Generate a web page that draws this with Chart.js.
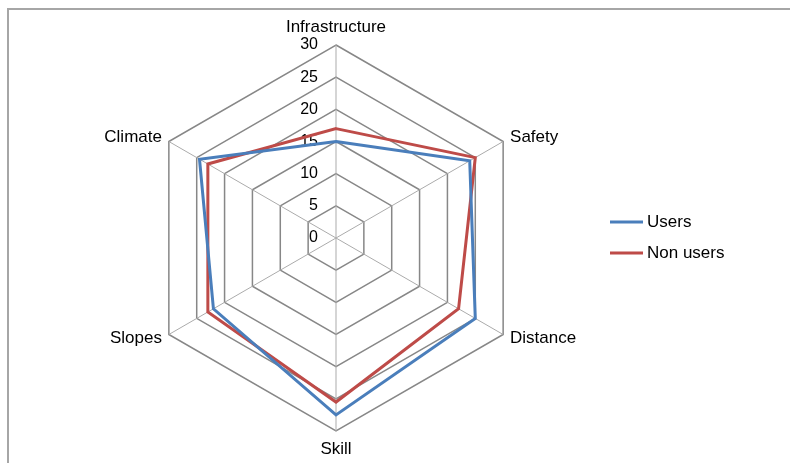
<!DOCTYPE html>
<html>
<head>
<meta charset="utf-8">
<script src="https://cdn.jsdelivr.net/npm/chart.js@4.4.0/dist/chart.umd.min.js"></script>
<style>
  html, body { margin: 0; padding: 0; background: #ffffff; }
  #wrap { position: relative; width: 790px; height: 463px; }
</style>
</head>
<body>
<div id="wrap"><canvas id="radar" width="790" height="463"></canvas></div>
<script>
// Survey scores per factor
const categories = ['Infrastructure', 'Safety', 'Distance', 'Skill', 'Slopes', 'Climate'];
const users = [15, 24, 25, 27.5, 22, 24.5];
const nonUsers = [17, 25, 22, 25.5, 23, 23];
const seriesNames = ['Users', 'Non users'];
const tickLabels = ['0', '5', '10', '15', '20', '25', '30'];

const FONT = "'Liberation Sans', Arial, sans-serif";
const COLORS = ['#4A7EBB', '#BE4B48'];

// Frame, axis numbers, category names and the legend
const decor = {
  id: 'decor',
  beforeDraw(chart) {
    const ctx = chart.ctx;
    ctx.save();
    ctx.strokeStyle = '#a6a6a6';
    ctx.lineWidth = 2;
    ctx.beginPath();
    ctx.moveTo(8, 463);
    ctx.lineTo(8, 9);
    ctx.lineTo(790, 9);
    ctx.stroke();
    ctx.restore();
  },
  beforeDatasetsDraw(chart) {
    const ctx = chart.ctx;
    const r = chart.scales.r;
    ctx.save();
    ctx.font = '16px ' + FONT;
    ctx.fillStyle = '#000000';
    ctx.textAlign = 'right';
    ctx.textBaseline = 'middle';
    r.ticks.forEach((t, i) => {
      const y = r.yCenter - r.getDistanceFromCenterForValue(t.value);
      ctx.fillText(tickLabels[i] ?? String(t.value), r.xCenter - 18, y);
    });
    ctx.restore();
  },
  afterDraw(chart) {
    const ctx = chart.ctx;
    const r = chart.scales.r;
    ctx.save();
    ctx.font = '17px ' + FONT;
    ctx.fillStyle = '#000000';
    ctx.textBaseline = 'middle';
    categories.forEach((name, i) => {
      const vertical = (i === 0 || i === 3);
      const p = r.getPointPosition(i, r.drawingArea + (vertical ? 18 : 8));
      if (vertical) ctx.textAlign = 'center';
      else ctx.textAlign = p.x > r.xCenter ? 'left' : 'right';
      ctx.fillText(name, p.x, p.y);
    });

    // legend
    const rows = [222, 253];
    seriesNames.forEach((name, i) => {
      ctx.strokeStyle = COLORS[i];
      ctx.lineWidth = 3;
      ctx.beginPath();
      ctx.moveTo(610, rows[i]);
      ctx.lineTo(643, rows[i]);
      ctx.stroke();
      ctx.textAlign = 'left';
      ctx.fillText(name, 647, rows[i]);
    });
    ctx.restore();
  }
};

new Chart(document.getElementById('radar'), {
  type: 'radar',
  data: {
    labels: categories,
    datasets: [
      { label: seriesNames[0], data: users, borderColor: COLORS[0], backgroundColor: COLORS[0],
        borderWidth: 3, pointRadius: 0, pointHoverRadius: 0, fill: false, tension: 0 },
      { label: seriesNames[1], data: nonUsers, borderColor: COLORS[1], backgroundColor: COLORS[1],
        borderWidth: 3, pointRadius: 0, pointHoverRadius: 0, fill: false, tension: 0 }
    ]
  },
  options: {
    responsive: false,
    devicePixelRatio: 1,
    animation: false,
    layout: { padding: { top: 45, bottom: 31, left: 100, right: 218 } },
    plugins: { legend: { display: false }, tooltip: { enabled: false } },
    elements: { line: { borderJoinStyle: 'miter' } },
    scales: {
      r: {
        min: 0,
        max: 30,
        ticks: { stepSize: 5, display: false },
        pointLabels: { display: false },
        grid: { color: '#878787', lineWidth: 1.5 },
        angleLines: { color: '#ababab', lineWidth: 1 }
      }
    }
  },
  plugins: [decor]
});
</script>
</body>
</html>
